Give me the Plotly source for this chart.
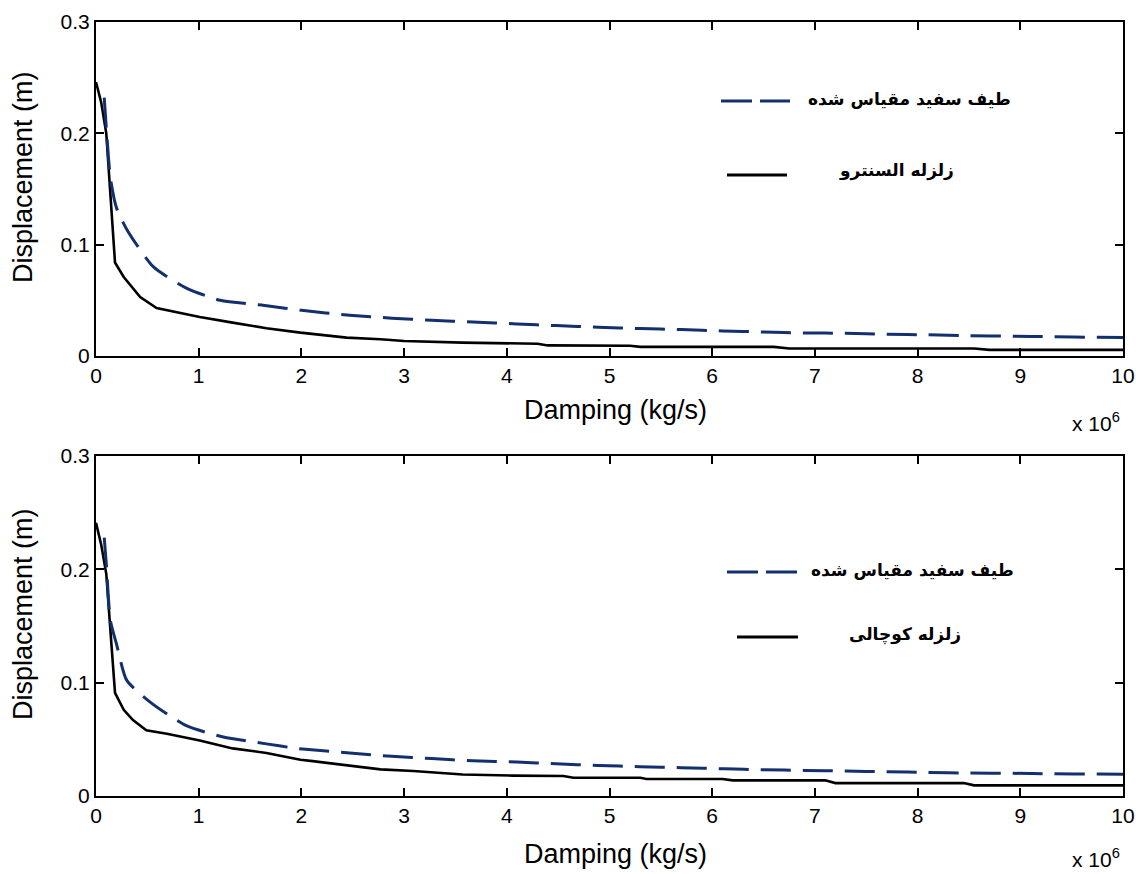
import plotly.graph_objects as go

W, H = 1136, 874

# Damping values in units of 10^6 kg/s, displacement in m
# El Centro record (top panel)
elc_wn_x = [0.08, 0.10, 0.14, 0.20, 0.31, 0.56, 0.88, 1.21, 1.68, 2.00, 2.47, 2.88, 3.27,
            3.67, 4.10, 4.48, 4.89, 5.30, 5.70, 6.10, 6.50, 6.90, 7.30, 7.70, 8.10, 8.50,
            8.93, 9.30, 9.75, 10.0]
elc_wn_y = [0.232, 0.205, 0.160, 0.133, 0.112, 0.080, 0.061, 0.050, 0.045, 0.041, 0.0366,
            0.034, 0.032, 0.0306, 0.0288, 0.0273, 0.0258, 0.0246, 0.0237, 0.0225, 0.0216,
            0.0207, 0.0204, 0.0195, 0.019, 0.0183, 0.0177, 0.0174, 0.0168, 0.0166]
elc_eq_x = [0.0, 0.05, 0.10, 0.185, 0.27, 0.43, 0.59, 0.69, 1.01, 1.33, 1.66, 1.99, 2.44,
            2.77, 3.00, 3.57, 4.30, 4.40, 5.20, 5.30, 6.60, 6.75, 8.55, 8.70, 10.0]
elc_eq_y = [0.246, 0.228, 0.200, 0.084, 0.071, 0.053, 0.043, 0.041, 0.035, 0.030, 0.025,
            0.021, 0.0165, 0.0150, 0.0135, 0.0120, 0.0110, 0.0095, 0.0092, 0.0082, 0.0082,
            0.0068, 0.0068, 0.0055, 0.0055]

# Kocaeli record (bottom panel)
koc_wn_x = [0.08, 0.10, 0.14, 0.20, 0.30, 0.54, 0.88, 1.24, 1.66, 1.95, 2.07, 2.47, 2.88,
            3.27, 3.67, 4.10, 4.48, 4.89, 5.30, 5.70, 6.12, 6.50, 6.90, 7.30, 7.70, 8.10,
            8.50, 8.93, 9.30, 9.75, 10.0]
koc_wn_y = [0.228, 0.205, 0.155, 0.134, 0.102, 0.082, 0.062, 0.052, 0.046, 0.042, 0.041,
            0.038, 0.035, 0.033, 0.031, 0.030, 0.0284, 0.027, 0.0258, 0.025, 0.024, 0.0232,
            0.0226, 0.022, 0.0214, 0.0208, 0.0202, 0.020, 0.0196, 0.0194, 0.0192]
koc_eq_x = [0.0, 0.05, 0.10, 0.185, 0.27, 0.36, 0.49, 0.69, 1.01, 1.33, 1.66, 1.99, 2.11,
            2.44, 2.77, 3.09, 3.57, 4.06, 4.55, 4.65, 5.30, 5.36, 6.10, 6.20, 7.10, 7.20,
            8.45, 8.55, 10.0]
koc_eq_y = [0.241, 0.222, 0.196, 0.091, 0.076, 0.067, 0.058, 0.055, 0.049, 0.042, 0.038,
            0.032, 0.0308, 0.0273, 0.0235, 0.022, 0.019, 0.018, 0.0176, 0.0161, 0.0161,
            0.015, 0.015, 0.0138, 0.0138, 0.0114, 0.0114, 0.0094, 0.0094]

x_ticks = [0, 1, 2, 3, 4, 5, 6, 7, 8, 9, 10]
y_ticks = [0, 0.1, 0.2, 0.3]

label_wn = "طيف سفيد مقياس شده"
label_elc = "زلزله السنترو"
label_koc = "زلزله کوچالی"

NAVY = "#12306e"
TICK_FONT = dict(family="Liberation Sans, Arial, sans-serif", size=21, color="black")
TITLE_FONT = dict(family="Liberation Sans, Arial, sans-serif", size=27, color="black")
FA_FONT = dict(family="DejaVu Sans", size=17, color="black")

# page margins around the plotting region (pixels)
ML, MR, MT, MB = 96, 13, 22, 78
PW, PH = W - ML - MR, H - MT - MB


def px(x):
    """page pixel column -> paper x"""
    return (x - ML) / PW


def py(y):
    """page pixel row -> paper y"""
    return 1 - (y - MT) / PH


fig = go.Figure()

panels = [
    ("x", "y", elc_wn_x, elc_wn_y, elc_eq_x, elc_eq_y, label_elc),
    ("x2", "y2", koc_wn_x, koc_wn_y, koc_eq_x, koc_eq_y, label_koc),
]
for xa, ya, wx, wy, ex, ey, eq_name in panels:
    fig.add_trace(go.Scatter(x=ex, y=ey, mode="lines", name=eq_name, xaxis=xa, yaxis=ya,
                             line=dict(color="black", width=2.6), showlegend=False))
    fig.add_trace(go.Scatter(x=wx, y=wy, mode="lines", name=label_wn, xaxis=xa, yaxis=ya,
                             line=dict(color=NAVY, width=3, dash="30px,12px",
                                       shape="spline", smoothing=0.6),
                             showlegend=False))

axis_common = dict(showline=True, linewidth=2, linecolor="black", mirror="ticks",
                   ticks="inside", ticklen=8, tickwidth=1.5, tickcolor="black",
                   showgrid=False, zeroline=False, tickfont=TICK_FONT, automargin=False)

top_y = [py(356), py(22)]
bot_y = [py(796), py(456)]

fig.update_layout(
    width=W, height=H,
    margin=dict(l=ML, r=MR, t=MT, b=MB, autoexpand=False),
    paper_bgcolor="white", plot_bgcolor="white",
    xaxis=dict(domain=[0, 1], range=[0, 10], tickvals=x_ticks, anchor="y", **axis_common),
    yaxis=dict(domain=top_y, range=[0, 0.3], tickvals=y_ticks, anchor="x", **axis_common),
    xaxis2=dict(domain=[0, 1], range=[0, 10], tickvals=x_ticks, anchor="y2", **axis_common),
    yaxis2=dict(domain=bot_y, range=[0, 0.3], tickvals=y_ticks, anchor="x2", **axis_common),
)

annotations = []
shapes = []

# axis titles and the 10^6 multiplier for each panel
for y_bot, y_top, xt_y, mult_y in [(356, 22, 410, 422), (796, 456, 854, 858)]:
    annotations.append(dict(text="Damping (kg/s)", x=px(615), y=py(xt_y), xref="paper",
                            yref="paper", showarrow=False, font=TITLE_FONT,
                            xanchor="center", yanchor="middle"))
    annotations.append(dict(text="Displacement (m)", x=px(23), y=py((y_bot + y_top) / 2 - 12),
                            xref="paper", yref="paper", showarrow=False, font=TITLE_FONT,
                            textangle=-90, xanchor="center", yanchor="middle"))
    annotations.append(dict(text="x 10<sup>6</sup>", x=px(1122), y=py(mult_y), xref="paper",
                            yref="paper", showarrow=False, font=TICK_FONT,
                            xanchor="right", yanchor="middle"))

# legend entries drawn inside each panel
legend_rows = [
    (label_wn, 721, 790, 101, 806, 99, True),
    (label_elc, 727, 787, 175, 837, 170, False),
    (label_wn, 727, 797, 572, 809, 570, True),
    (label_koc, 737, 798, 637, 847, 634, False),
]
for text, x0, x1, ly, tx, ty, dashed in legend_rows:
    shapes.append(dict(type="line", xref="paper", yref="paper", x0=px(x0), x1=px(x1),
                       y0=py(ly), y1=py(ly),
                       line=dict(color=NAVY if dashed else "black", width=3,
                                 dash="31px,8px" if dashed else "solid")))
    annotations.append(dict(text="<b>" + text + "</b>", x=px(tx), y=py(ty), xref="paper",
                            yref="paper", showarrow=False, font=FA_FONT,
                            xanchor="left", yanchor="middle"))

fig.update_layout(annotations=annotations, shapes=shapes)

fig.write_html("out.html")
